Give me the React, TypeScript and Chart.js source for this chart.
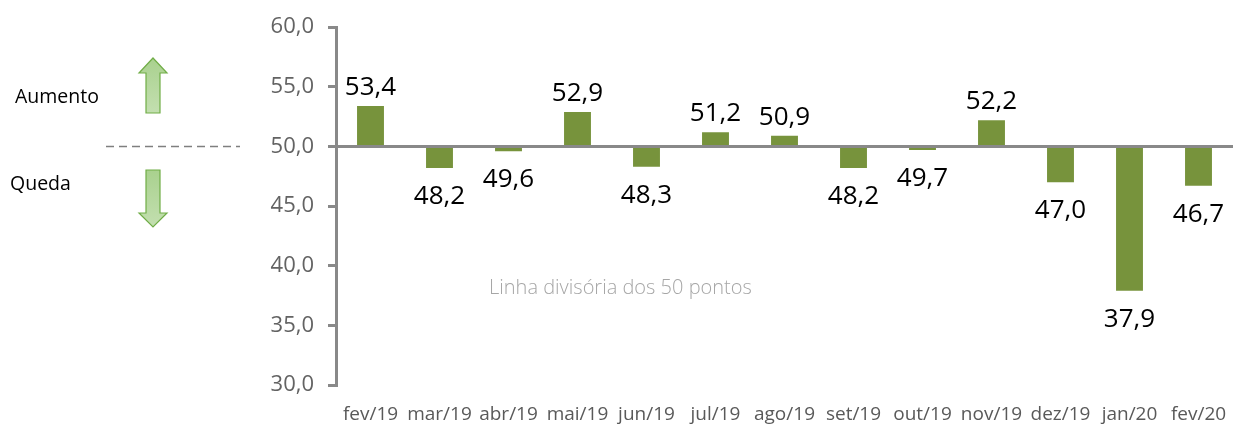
import { useEffect, useRef } from "react";
import { Chart, registerables } from "chart.js";

Chart.register(...registerables);

const categories = [
  "fev/19", "mar/19", "abr/19", "mai/19", "jun/19", "jul/19", "ago/19",
  "set/19", "out/19", "nov/19", "dez/19", "jan/20", "fev/20",
];
const values = [53.4, 48.2, 49.6, 52.9, 48.3, 51.2, 50.9, 48.2, 49.7, 52.2, 47.0, 37.9, 46.7];
const dividingLine = 50;
const yMin = 30;
const yMax = 60;
const yStep = 5;
const upLabel = "Aumento";
const downLabel = "Queda";
const noteLabel = "Linha divisória dos 50 pontos";

const fmt = (v: number) => v.toFixed(1).replace(".", ",");

const FONT = "'Open Sans', 'DejaVu Sans', sans-serif";
const AXIS_GRAY = "#898989";
const BAR_GREEN = "#77933C";

function drawArrow(ctx: CanvasRenderingContext2D, up: boolean) {
  ctx.save();
  const cx = 153;
  let pts: [number, number][];
  if (up) {
    pts = [[153, 58], [167, 73], [160, 73], [160, 113], [146, 113], [146, 73], [139, 73]];
  } else {
    pts = [[146, 170], [160, 170], [160, 213], [167, 213], [153, 227], [139, 213], [146, 213]];
  }
  const ys = pts.map((p) => p[1]);
  const g = ctx.createLinearGradient(cx, Math.min(...ys), cx, Math.max(...ys));
  g.addColorStop(0, "#A9D18E");
  g.addColorStop(1, "#C3DFB0");
  ctx.beginPath();
  pts.forEach((p, i) => (i === 0 ? ctx.moveTo(p[0], p[1]) : ctx.lineTo(p[0], p[1])));
  ctx.closePath();
  ctx.fillStyle = g;
  ctx.fill();
  ctx.strokeStyle = "#70AD47";
  ctx.lineWidth = 1.2;
  ctx.stroke();
  ctx.restore();
}

const overlayPlugin = {
  id: "overlay",
  afterDatasetsDraw(chart: any) {
    const { ctx, chartArea, scales } = chart;
    const y50 = scales.y.getPixelForValue(dividingLine);
    ctx.save();
    ctx.strokeStyle = AXIS_GRAY;
    ctx.lineWidth = 3;
    ctx.beginPath();
    ctx.moveTo(chartArea.left, y50);
    ctx.lineTo(chartArea.right, y50);
    ctx.stroke();

    // data labels
    const meta = chart.getDatasetMeta(0);
    ctx.fillStyle = "#000000";
    ctx.font = `26px ${FONT}`;
    ctx.textAlign = "center";
    ctx.textBaseline = "alphabetic";
    meta.data.forEach((el: any, i: number) => {
      const v = values[i];
      const yv = scales.y.getPixelForValue(v);
      const y = v >= dividingLine ? yv - 11 : yv + 36;
      ctx.fillText(fmt(v), el.x, y);
    });
    ctx.restore();
  },
  afterDraw(chart: any) {
    const { ctx, scales } = chart;
    const y50 = scales.y.getPixelForValue(dividingLine);
    ctx.save();
    // dashed line on left
    ctx.strokeStyle = "#7F7F7F";
    ctx.lineWidth = 1.5;
    ctx.setLineDash([8, 5]);
    ctx.beginPath();
    ctx.moveTo(106, y50);
    ctx.lineTo(240, y50);
    ctx.stroke();
    ctx.setLineDash([]);
    drawArrow(ctx, true);
    drawArrow(ctx, false);
    ctx.fillStyle = "#000000";
    ctx.font = `19.5px ${FONT}`;
    ctx.textAlign = "left";
    ctx.textBaseline = "alphabetic";
    ctx.fillText(upLabel, 15, 103);
    ctx.fillText(downLabel, 10, 190);
    ctx.fillStyle = "#A6A6A6";
    ctx.font = `300 20px ${FONT}`;
    ctx.fillText(noteLabel, 489, 294);
    ctx.restore();
  },
};

export default function App() {
  const ref = useRef<HTMLCanvasElement | null>(null);
  useEffect(() => {
    if (!ref.current) return;
    const chart = new Chart(ref.current, {
      type: "bar",
      data: {
        labels: categories,
        datasets: [
          {
            data: values,
            base: dividingLine,
            backgroundColor: BAR_GREEN,
            borderWidth: 0,
            barPercentage: 0.78,
            categoryPercentage: 0.5,
          } as any,
        ],
      },
      options: {
        responsive: false,
        animation: false,
        layout: { padding: { top: 25, right: 0, left: 0, bottom: 0 } },
        plugins: {
          legend: { display: false },
          tooltip: { enabled: false },
          title: { display: false },
        },
        scales: {
          x: {
            grid: { display: false, drawTicks: false },
            border: { display: false },
            ticks: {
              color: "#595959",
              font: { family: FONT, size: 19 },
              padding: 18,
              maxRotation: 0,
              autoSkip: false,
            },
            afterFit: (s: any) => {
              s.height = 42;
              s.paddingRight = 0;
              s.paddingLeft = 0;
            },
          },
          y: {
            min: yMin,
            max: yMax,
            grid: {
              drawOnChartArea: false,
              drawTicks: true,
              tickLength: 8,
              color: AXIS_GRAY,
              lineWidth: 3,
            },
            border: { display: true, color: AXIS_GRAY, width: 3 },
            ticks: {
              stepSize: yStep,
              color: "#636363",
              font: { family: FONT, size: 22 },
              padding: 14,
              callback: (v: any) => fmt(Number(v)),
            },
            afterFit: (s: any) => {
              s.width = 336;
            },
          },
        },
      },
      plugins: [overlayPlugin],
    });
    return () => chart.destroy();
  }, []);
  return (
    <div style={{ position: "absolute", left: 0, top: 0, width: 1233, height: 427 }}>
      <canvas ref={ref} width={1233} height={427} />
    </div>
  );
}
